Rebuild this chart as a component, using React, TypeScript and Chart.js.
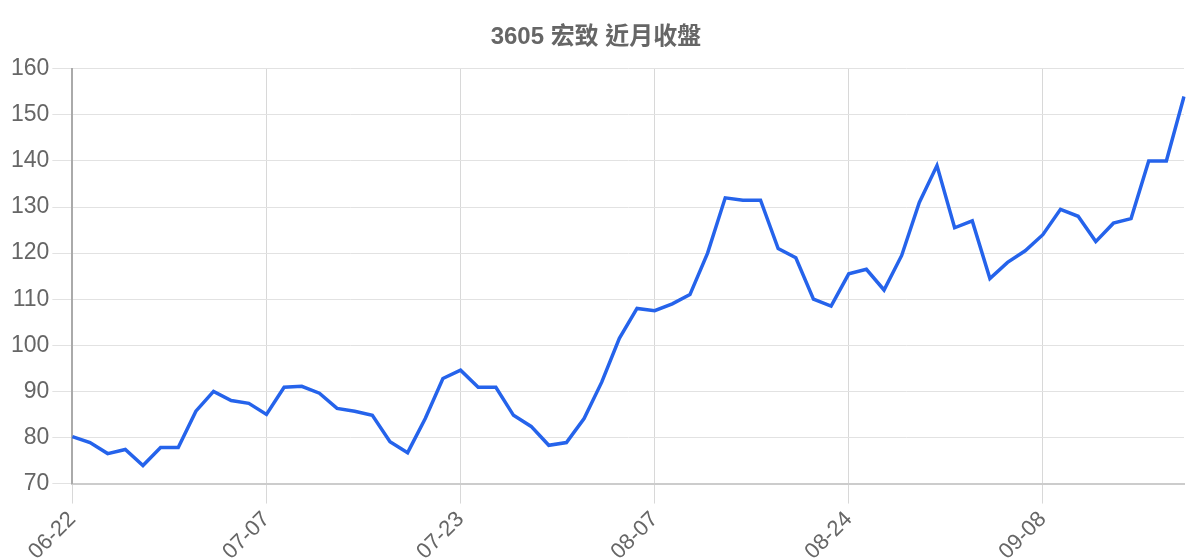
import React, { useEffect, useRef } from 'react';
import { Chart, registerables } from 'chart.js';

Chart.register(...registerables);

const dates = [
  '06-22', '06-23', '06-24', '06-25', '06-26', '06-29', '06-30', '07-01', '07-02', '07-03', '07-06',
  '07-07', '07-08', '07-09', '07-10', '07-13', '07-14', '07-15', '07-16', '07-17', '07-20', '07-21',
  '07-23', '07-24', '07-27', '07-28', '07-29', '07-30', '07-31', '08-03', '08-04', '08-05', '08-06',
  '08-07', '08-10', '08-11', '08-12', '08-13', '08-14', '08-17', '08-18', '08-19', '08-20', '08-21',
  '08-24', '08-25', '08-26', '08-27', '08-28', '08-31', '09-01', '09-02', '09-03', '09-04', '09-07',
  '09-08', '09-09', '09-10', '09-11', '09-14', '09-15', '09-16', '09-17', '09-18',
];

const closes = [
  80.2, 78.9, 76.5, 77.4, 73.9, 77.8, 77.8, 85.7, 90.0, 88.0, 87.4,
  85.0, 90.9, 91.1, 89.6, 86.3, 85.7, 84.8, 79.1, 76.7, 84.1, 92.8,
  94.6, 90.9, 90.9, 84.8, 82.4, 78.3, 78.9, 84.1, 92.0, 101.5, 108,
  107.5, 109, 111, 120, 132, 131.5, 131.5, 121, 119, 110, 108.5,
  115.5, 116.5, 112, 119.5, 131, 139, 125.5, 127, 114.5, 118, 120.5,
  124, 129.5, 128, 122.5, 126.5, 127.5, 140, 140, 154,
];

const labelEvery = 11;
const font = "'Liberation Sans', Arial, 'Noto Sans CJK TC', sans-serif";

const App = () => {
  const canvasRef = useRef<HTMLCanvasElement>(null);

  useEffect(() => {
    if (!canvasRef.current) return;
    const chart = new Chart(canvasRef.current, {
      type: 'line',
      data: {
        labels: dates,
        datasets: [{
          label: '收盤',
          data: closes,
          borderColor: '#2563eb',
          borderWidth: 3.5,
          pointRadius: 0,
          tension: 0,
          fill: false,
        }],
      },
      options: {
        animation: false,
        responsive: true,
        maintainAspectRatio: false,
        layout: { padding: { right: 8 } },
        plugins: {
          legend: { display: false },
          tooltip: { enabled: false },
          title: {
            display: true,
            text: '3605 宏致 近月收盤',
            color: '#666',
            font: { family: font, size: 24, weight: 'bold' },
            padding: { top: 15, bottom: 17 },
          },
        },
        scales: {
          x: {
            grid: { color: '#d8d8d8', tickLength: 20 },
            border: { color: '#ccc', width: 2 },
            ticks: {
              autoSkip: false,
              maxRotation: 45,
              minRotation: 45,
              color: '#666',
              font: { family: font, size: 22 },
              callback: (_v, i) => (i % labelEvery === 0 ? dates[i] : null),
            },
          },
          y: {
            min: 70,
            max: 160,
            grid: { color: '#e2e2e2', tickLength: 20 },
            border: { color: '#aaa', width: 2 },
            ticks: {
              stepSize: 10,
              color: '#666',
              font: { family: font, size: 23 },
            },
          },
        },
      },
    });
    return () => chart.destroy();
  }, []);

  return (
    <div style={{ width: '100%', height: 560 }}>
      <canvas ref={canvasRef}></canvas>
    </div>
  );
};

export default App;
